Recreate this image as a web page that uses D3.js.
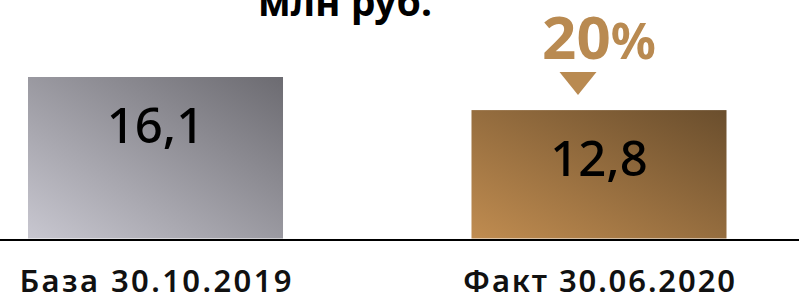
<!DOCTYPE html>
<html><head><meta charset="utf-8">
<script src="https://cdn.jsdelivr.net/npm/d3@7"></script>
<style>html,body{margin:0;padding:0;background:#fff;overflow:hidden}</style>
</head><body>
<svg id="c" width="799" height="300"></svg>
<script>
const categories = ["База 30.10.2019", "Факт 30.06.2020"];
const values = [16.1, 12.8];
const valueLabels = ["16,1", "12,8"];
const changeLabel = "20";
const unitLabel = "млн руб.";

const svg = d3.select("#c");
const defs = svg.append("defs");
const grads = [["g0", "#c8c7d0", "#6c6b71"], ["g1", "#c08c50", "#6a4e2d"]];
grads.forEach(([id, a, b]) => {
  const g = defs.append("linearGradient").attr("id", id)
    .attr("x1", 0).attr("y1", 1).attr("x2", 1).attr("y2", 0);
  g.append("stop").attr("offset", 0).attr("stop-color", a);
  g.append("stop").attr("offset", 1).attr("stop-color", b);
});

const x = d3.scaleBand().domain(categories).range([28, 726.5]).paddingInner(0.425).paddingOuter(0);
const y = d3.scaleLinear().domain([0, 16.1]).range([238.5, 77]);

svg.append("text").attr("x", 345).attr("y", 16).attr("text-anchor", "middle")
  .attr("font-family", "Noto Sans").attr("font-weight", 700).attr("font-size", 39)
  .attr("fill", "#000").text(unitLabel);

svg.selectAll("rect.bar").data(values).join("rect").attr("class", "bar")
  .attr("x", (d, i) => x(categories[i])).attr("width", x.bandwidth())
  .attr("y", d => y(d)).attr("height", d => y(0) - y(d))
  .attr("fill", (d, i) => `url(#g${i})`);

svg.append("line").attr("x1", 0).attr("x2", 799).attr("y1", 240).attr("y2", 240)
  .attr("stroke", "#000").attr("stroke-width", 2);

svg.selectAll("text.val").data(values).join("text").attr("class", "val")
  .attr("x", (d, i) => x(categories[i]) + x.bandwidth() / 2)
  .attr("y", d => y(d) + 66).attr("text-anchor", "middle")
  .attr("font-family", "Noto Sans").attr("font-weight", 500).attr("font-size", 49).attr("fill", "#000")
  .text((d, i) => valueLabels[i]);

svg.selectAll("text.cat").data(categories).join("text").attr("class", "cat")
  .attr("x", d => x(d) + x.bandwidth() / 2).attr("y", 292).attr("text-anchor", "middle")
  .attr("font-family", "Noto Sans").attr("font-weight", 600).attr("font-size", 31).attr("fill", "#111")
  .attr("textLength", 272).attr("lengthAdjust", "spacing")
  .text(d => d);

const cx2 = x(categories[1]) + x.bandwidth() / 2;
const pct = svg.append("text").attr("x", cx2).attr("y", 59).attr("text-anchor", "middle")
  .attr("font-family", "Noto Sans").attr("font-weight", 700).attr("fill", "#b98a51");
pct.append("tspan").attr("font-size", 60).text(changeLabel);
pct.append("tspan").attr("font-size", 50).text("%");

const tx = cx2 - 21, ty = 72;
svg.append("path").attr("d", d3.line()([[tx - 18.5, ty], [tx + 18.5, ty], [tx, ty + 23]]) + "Z")
  .attr("fill", "#b98a51");
</script>
</body></html>
